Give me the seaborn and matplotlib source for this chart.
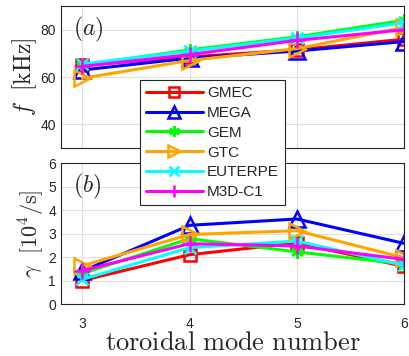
import matplotlib
matplotlib.use("Agg")
import matplotlib.pyplot as plt
import seaborn as sns
import pandas as pd

sns.set_style("whitegrid")
plt.rcParams['font.family'] = ['Liberation Sans', 'DejaVu Sans']
plt.rcParams['mathtext.fontset'] = 'cm'

# ---------------- DATA ----------------
modes = [3, 4, 5, 6]
codes = ["GMEC", "MEGA", "GEM", "GTC", "EUTERPE", "M3D-C1"]

freq = {
    "GMEC":    [65.0, 68.5, 71.5, 76.0],
    "MEGA":    [63.0, 68.0, 71.0, 75.0],
    "GEM":     [65.0, 71.5, 77.0, 84.0],
    "GTC":     [59.5, 67.0, 72.0, 81.0],
    "EUTERPE": [65.5, 71.0, 76.5, 83.0],
    "M3D-C1":  [64.5, 69.5, 75.5, 80.0],
}
growth = {
    "GMEC":    [1.00, 2.10, 2.60, 1.60],
    "MEGA":    [1.40, 3.35, 3.62, 2.58],
    "GEM":     [1.30, 2.78, 2.22, 1.70],
    "GTC":     [1.63, 2.96, 3.12, 1.97],
    "EUTERPE": [1.05, 2.40, 2.68, 1.65],
    "M3D-C1":  [1.42, 2.57, 2.47, 1.90],
}

colors = {"GMEC": "#ff0000", "MEGA": "#0000ff", "GEM": "#00ff00",
          "GTC": "#ffa500", "EUTERPE": "#00ffff", "M3D-C1": "#ff00ff"}
markers = {"GMEC": "s", "MEGA": "^", "GEM": (6, 2, 0),
           "GTC": ">", "EUTERPE": "x", "M3D-C1": "+"}
msizes = {"GMEC": 9, "MEGA": 11, "GEM": 9, "GTC": 11, "EUTERPE": 8, "M3D-C1": 11}

rows = []
for c in codes:
    for m, f, g in zip(modes, freq[c], growth[c]):
        rows.append({"code": c, "n": m, "f": f, "gamma": g})
df = pd.DataFrame(rows)

fig = plt.figure(figsize=(4.09, 3.56), dpi=100)
ax_a = fig.add_axes([0.149, 0.584, 0.839, 0.399])
ax_b = fig.add_axes([0.149, 0.146, 0.839, 0.396])

for ax, col in [(ax_a, "f"), (ax_b, "gamma")]:
    for c in codes:
        sub = df[df["code"] == c]
        sns.lineplot(data=sub, x="n", y=col, ax=ax, color=colors[c],
                     marker=markers[c], markersize=msizes[c],
                     markerfacecolor="none", markeredgecolor=colors[c],
                     markeredgewidth=1.8, linewidth=2.2, label=c, legend=False)
    ax.set_xlim(2.8, 6)
    ax.set_xticks(modes)
    ax.grid(True, color="#e0e0e0", linewidth=0.8)
    ax.tick_params(direction="in", labelsize=10, colors="#262626", length=3)
    ax.tick_params(axis="x", pad=9)
    for s in ax.spines.values():
        s.set_color("#262626")
        s.set_linewidth(0.8)
    ax.set_xlabel("")

ax_a.set_ylim(30, 90)
ax_a.set_yticks([40, 60, 80])
ax_a.set_xticklabels([])
ax_a.set_ylabel(r"$f\ \ [\mathrm{kHz}]$", fontsize=17, labelpad=1)
ax_a.text(0.035, 0.94, r"$(a)$", transform=ax_a.transAxes, fontsize=17, va="top")

ax_b.set_ylim(0, 6)
ax_b.set_yticks(range(0, 7))
ax_b.set_ylabel(r"$\gamma\ \ [10^4/\mathrm{s}]$", fontsize=16, labelpad=1)
ax_b.set_xlabel(r"$\mathrm{toroidal\ mode\ number}$", fontsize=19, labelpad=0)
ax_b.text(0.035, 0.94, r"$(b)$", transform=ax_b.transAxes, fontsize=17, va="top")

handles, labels = ax_a.get_legend_handles_labels()
leg = fig.legend(handles, labels, loc="upper left", bbox_to_anchor=(0.342, 0.775),
                 borderaxespad=0, fontsize=11, frameon=True, fancybox=False,
                 handlelength=3.7, labelspacing=0.38, borderpad=0.4,
                 handletextpad=0.3, markerscale=0.85)
leg.get_frame().set_edgecolor("#262626")
leg.get_frame().set_linewidth(0.8)
leg.get_frame().set_alpha(1)

fig.savefig("out.png", dpi=100)
